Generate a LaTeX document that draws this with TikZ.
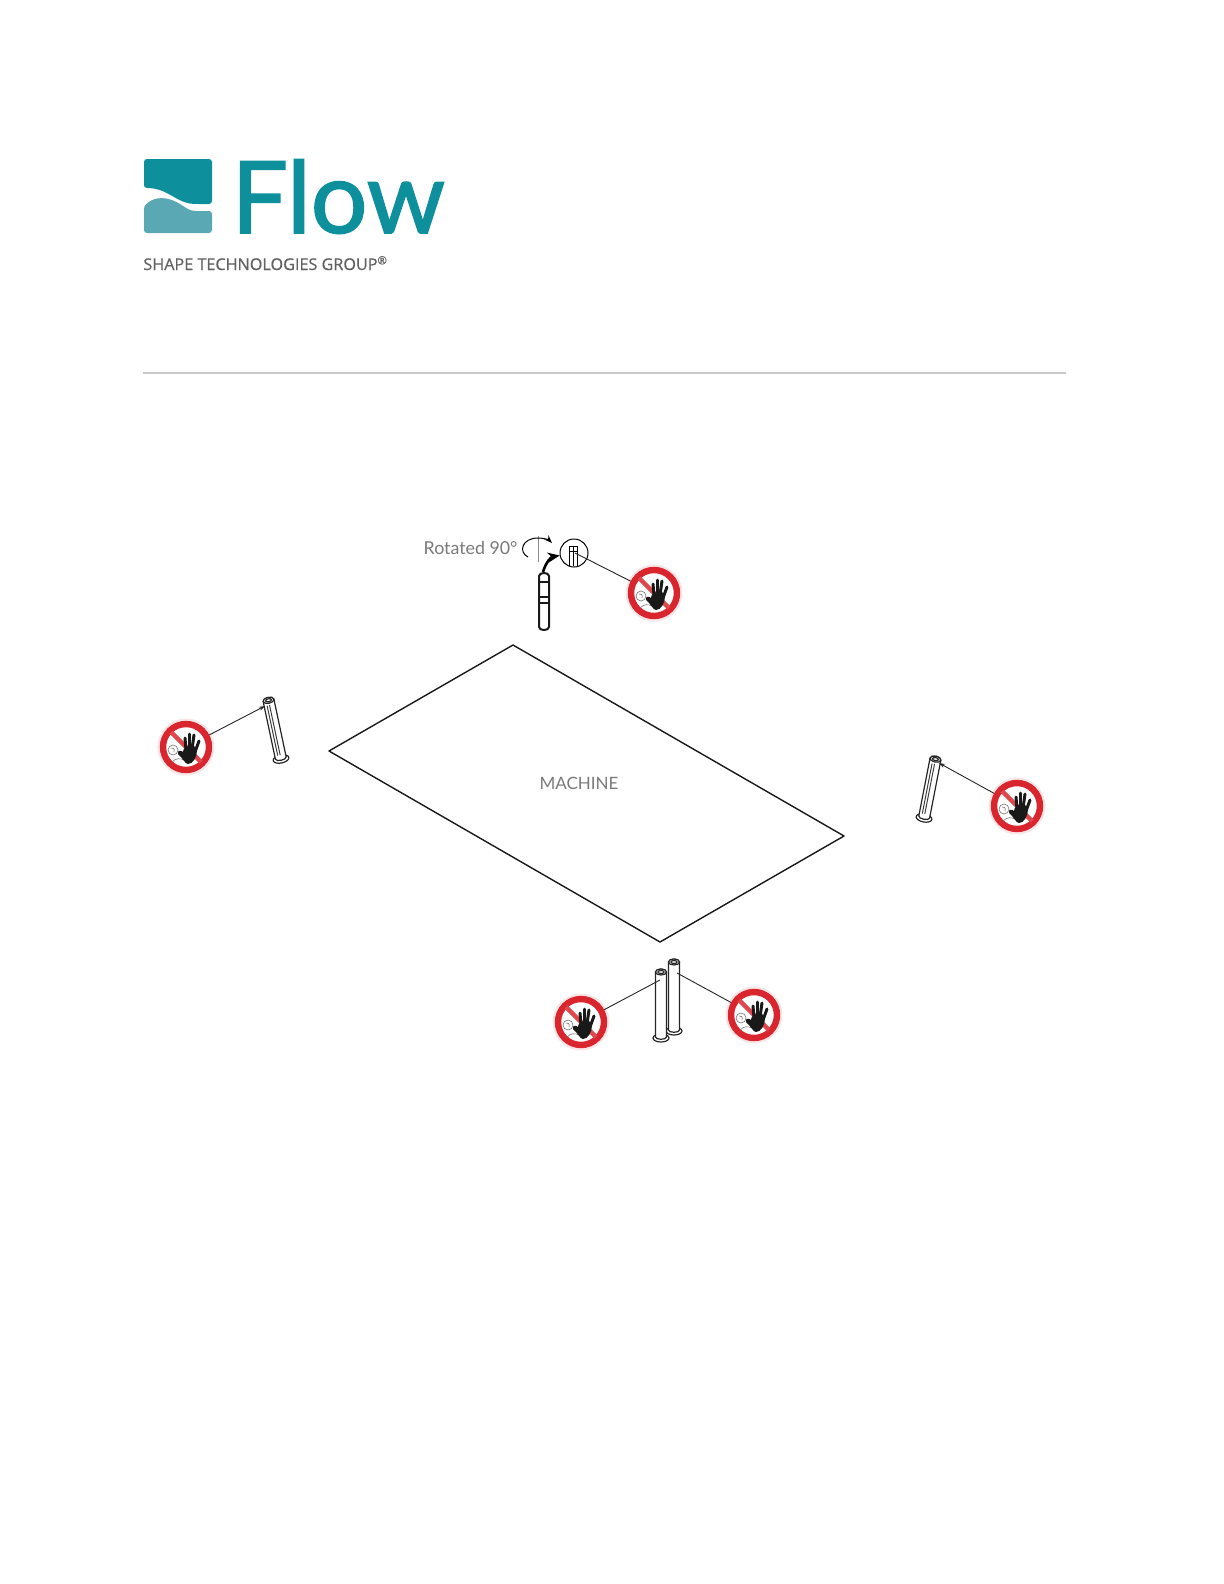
\documentclass[tikz,border=0pt]{standalone}
\usepackage{fontspec}
\setmainfont{Lato}
\newfontfamily\tagfont[FakeBold=0.6]{Open Sans}
\newfontfamily\flowfont[FakeBold=1.6]{Lato}
\definecolor{flowteal}{HTML}{0E8F9C}
\definecolor{flowpale}{HTML}{5BA8B5}
\definecolor{signred}{HTML}{D9262E}
\definecolor{labelgray}{HTML}{7A7A7A}
\usetikzlibrary{arrows.meta}
\newcommand{\postbody}[1]{%
    \draw[postline] (0,0) ellipse [x radius=8, y radius=4];
    \draw[postline] (-5.5,-1) -- (-5.5,-#1) .. controls (-5.5,{-#1-4}) and (5.5,{-#1-4}) .. (5.5,-#1)
        -- (5.5,-1) .. controls (5.5,2) and (-5.5,2) .. (-5.5,-1) -- cycle;
    \draw[postline] (0,-#1) ellipse [x radius=5.5, y radius=3];
    \draw[postline] (0,-#1) ellipse [x radius=3, y radius=1.5];
}
\tikzset{
    signring/.style={circle, draw=signred, line width=3.2pt, fill=white, minimum size=23pt, inner sep=0pt},
    leader/.style={line width=0.45pt, black!85},
    leadertip/.style={leader, -{Stealth[length=3pt,width=2pt]}},
    postline/.style={line width=0.6pt, black!85, fill=white},
    thinlabel/.style={text=labelgray, inner sep=0pt},
    pics/nosign/.style={code={
        \draw[signred!85, line width=2.2pt] (-15,-15) -- (15,15);
        % face and sleeve on the left
        \draw[black!55, line width=0.3pt, fill=white] (-13,3) circle (5);
        \draw[black!55, line width=0.3pt] (-15,1) .. controls (-13,0) and (-11,2) .. (-12,5);
        \draw[black!55, line width=0.3pt] (-14,15) .. controls (-10,11) and (-6,11) .. (-2,13);
        % hand
        \fill[black!90] (-3,5) .. controls (-3,-2) and (10,-4) .. (11,3)
            .. controls (11,10) and (7,17) .. (2,17)
            .. controls (-1,17) and (-3,11) .. (-8,7)
            .. controls (-9,3) and (-5,3) .. (-3,5) -- cycle;
        \foreach \fx/\fy/\tx/\ty in {0/3/-1/-9, 3/2/3/-13, 6/2/8/-12, 9/5/13/-6}
            \draw[black!90, line width=1.5pt, line cap=round] (\fx,\fy) -- (\tx,\ty);
    }},
    pics/barrierpost/.style={code={\postbody{#1}}},
    pics/stripedpost/.style={code={
        \postbody{#1}
        \draw[line width=0.5pt, black!75] (-2.5,-4) -- (-2.5,{-#1+5});
        \draw[line width=0.5pt, black!75] (0,-4) -- (0,{-#1+5});
    }},
}
\begin{document}
\begin{tikzpicture}[x=0.5pt, y=-0.5pt]
    \useasboundingbox (0,0) rectangle (1224,1584);
    % logo
    \fill[flowteal, rounded corners=1.5pt] (144,188) -- (144,159) -- (212,159) -- (212,204) -- (196,204)
        .. controls (176,203) and (168,188) .. (144,188) -- cycle;
    \fill[flowpale, rounded corners=1.5pt] (144,206) .. controls (160,192) and (176,201) .. (186,208)
        .. controls (194,212) and (204,211) .. (212,211) -- (212,233) -- (144,233) -- cycle;
    \node[anchor=base west, inner sep=0pt, text=flowteal, font=\flowfont\fontsize{50}{50}\selectfont] (flowname) at (231,233) {Flow};
    \node[anchor=base west, inner sep=0pt, text=black!62, font=\tagfont\fontsize{8.1}{9}\selectfont] (flowtag) at (143,270) {SHAPE TECHNOLOGIES GROUP\textsuperscript{®}};
    \draw[black!22, line width=0.9pt] (143,373) -- (1066,373);
    % machine
    \draw[line width=0.7pt, black!90, line join=round] (513,645) -- (844,836) -- (660,942) -- (329,751) -- cycle;
    \node[thinlabel, font=\fontsize{8.5}{10}\selectfont] (machine) at (579,783) {MACHINE};
    % posts
    \draw[line width=1pt, black!90] (539,627) -- (539,576) .. controls (539,572) and (549,572) .. (549,576)
        -- (549,627) .. controls (549,631) and (539,631) .. (539,627) -- cycle;
    \draw[line width=0.8pt, black!90] (539,582) -- (549,582) (539,597) -- (549,597) (539,603) -- (549,603);
    \pic[rotate=12] at (281,759) {stripedpost=60};
    \pic[rotate=-11] at (924,818) {stripedpost=60};
    \pic at (674,1031) {barrierpost=69};
    \pic at (661,1038) {barrierpost=66};
    \coordinate (posttop) at (575,553);
    \coordinate (postleft) at (265,706);
    \coordinate (postright) at (939,763);
    \coordinate (postfront) at (660,980);
    \coordinate (postback) at (677,973);
    % rotated view
    \node[circle, draw, line width=0.5pt, minimum size=14pt, inner sep=0pt] (detail) at (574,553) {};
    \draw[line width=0.5pt] (569,566) -- (569,546) -- (577,546) -- (577,566);
    \draw[line width=0.4pt] (569,551) -- (577,551) (573,546) -- (573,566);
    \coordinate (poststub) at (543,572);
    \draw[line width=1.3pt, -{Stealth[length=6pt,width=5pt]}] (poststub) .. controls (546,562) and (551,557) .. (detail);
    \draw[black!45, line width=0.35pt] (538,536) -- (538,562);
    \draw[line width=0.5pt, -{Stealth[length=4pt,width=3pt]}] (528,557) .. controls (518,552) and (522,538) .. (538,538) .. controls (544,538) and (549,540) .. (552,543);
    \node[thinlabel, anchor=east, font=\fontsize{8.9}{11}\selectfont] (rotated) at (518,548) {Rotated 90°};
    % signs
    \foreach \nm/\px/\py in {signtop/654/593, signleft/186/747, signright/1017/806, signfront/581/1022, signback/754/1015} {
        \fill[signred!12] (\px,\py) circle (28.5);
        \node[signring] (\nm) at (\px,\py) {};
        \pic at (\nm) {nosign};
    }
    \draw[leader] (signtop) -- (posttop);
    \draw[leadertip] (signleft) -- (postleft);
    \draw[leadertip] (signright) -- (postright);
    \draw[leader] (signfront) -- (postfront);
    \draw[leader] (signback) -- (postback);
\end{tikzpicture}
\end{document}
